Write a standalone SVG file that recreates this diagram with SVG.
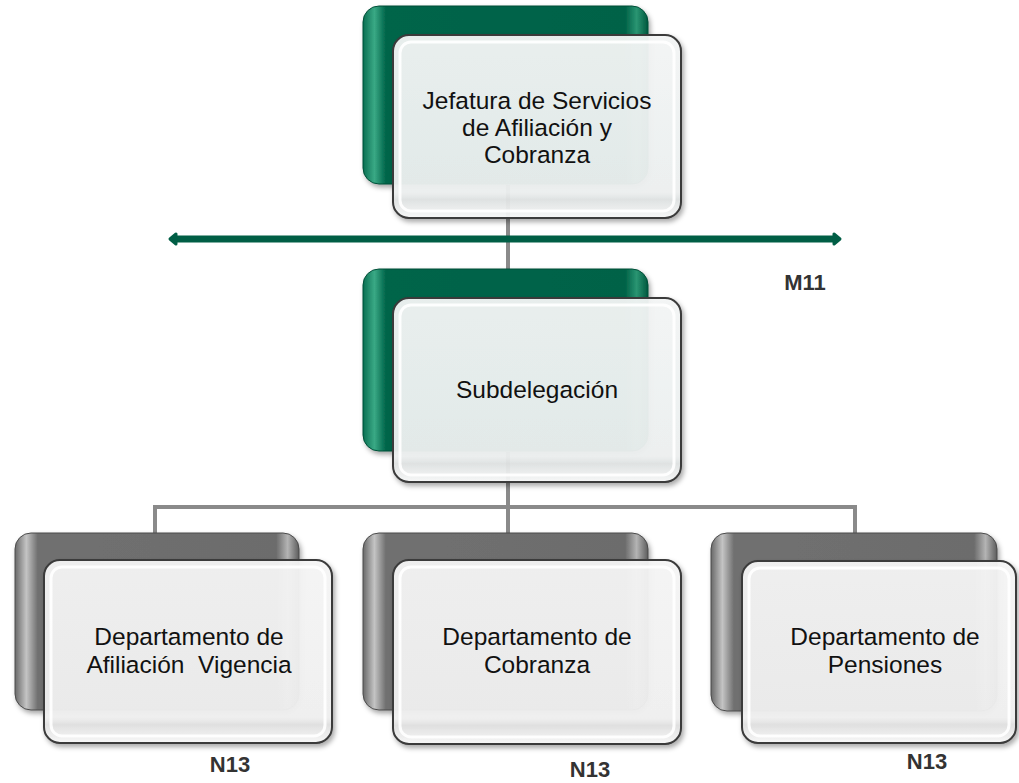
<svg xmlns="http://www.w3.org/2000/svg" width="1019" height="783" viewBox="0 0 1019 783">
<defs>
  <filter id="sh" x="-10%" y="-10%" width="125%" height="130%">
    <feDropShadow dx="2" dy="3" stdDeviation="2.5" flood-color="#000" flood-opacity="0.35"/>
  </filter>
  <linearGradient id="gGreen" x1="0" y1="0" x2="1" y2="0">
    <stop offset="0" stop-color="#086f52"/>
    <stop offset="0.04" stop-color="#3aa985"/>
    <stop offset="0.08" stop-color="#00654a"/>
    <stop offset="0.92" stop-color="#006247"/>
    <stop offset="0.96" stop-color="#2a9572"/>
    <stop offset="1" stop-color="#00573e"/>
  </linearGradient>
  <linearGradient id="gGray" x1="0" y1="0" x2="1" y2="0">
    <stop offset="0" stop-color="#686868"/>
    <stop offset="0.04" stop-color="#c4c4c4"/>
    <stop offset="0.08" stop-color="#707070"/>
    <stop offset="0.92" stop-color="#6c6c6c"/>
    <stop offset="0.96" stop-color="#b4b4b4"/>
    <stop offset="1" stop-color="#5c5c5c"/>
  </linearGradient>
  <linearGradient id="gFrontG" x1="0" y1="0" x2="0" y2="1">
    <stop offset="0" stop-color="#f4f6f6"/>
    <stop offset="0.86" stop-color="#eef1f1"/>
    <stop offset="0.9" stop-color="#e0e3e3"/>
    <stop offset="1" stop-color="#f8f9f9"/>
  </linearGradient>
  <linearGradient id="gFront" x1="0" y1="0" x2="0" y2="1">
    <stop offset="0" stop-color="#f6f6f6"/>
    <stop offset="0.86" stop-color="#f1f1f1"/>
    <stop offset="0.9" stop-color="#e1e1e1"/>
    <stop offset="1" stop-color="#f9f9f9"/>
  </linearGradient>
  <style>
    .backG { fill: url(#gGreen); stroke: #004e37; stroke-width: 1; }
    .backK { fill: url(#gGray); stroke: #4a4a4a; stroke-width: 1; }
    .frontG { fill: url(#gFrontG); stroke: #3a3a3a; stroke-width: 2; fill-opacity: 0.94; }
    .front { fill: url(#gFront); stroke: #3a3a3a; stroke-width: 2; fill-opacity: 0.94; }
    .bevel { fill: none; stroke: #ffffff; stroke-width: 3; stroke-opacity: 0.9; }
    .conn { fill: none; stroke: #8a8a8a; stroke-width: 4; }
    .txt { font-family: "Liberation Sans", Arial, sans-serif; font-size: 24.5px; fill: #111111; text-anchor: middle; }
    .lvl { font-family: "Liberation Sans", Arial, sans-serif; font-size: 22px; font-weight: bold; fill: #333333; text-anchor: middle; }
  </style>
</defs>

<g id="connectors">
  <path class="conn" d="M508 185 V298"/>
  <path class="conn" d="M508 452 V507 M155 507 H855 M155 505 V533 M508 507 V533 M855 505 V533"/>
  <line x1="175" y1="239" x2="835" y2="239" stroke="#005e45" stroke-width="7"/>
  <path d="M170 239 L176 234 L176 244 Z" fill="#005e45" stroke="#005e45" stroke-width="3" stroke-linejoin="round"/>
  <path d="M840 239 L834 234 L834 244 Z" fill="#005e45" stroke="#005e45" stroke-width="3" stroke-linejoin="round"/>
</g>

<g id="node-jefatura">
  <rect class="backG" x="363" y="6" width="285" height="178" rx="16" filter="url(#sh)"/>
  <rect class="frontG" x="393" y="35" width="288" height="183" rx="16" filter="url(#sh)"/>
  <rect class="bevel" x="400" y="42" width="274" height="169" rx="11"/>
  <text class="txt" x="537" y="109">Jefatura de Servicios</text>
  <text class="txt" x="537" y="136">de Afiliación y</text>
  <text class="txt" x="537" y="163">Cobranza</text>
</g>

<g id="label-m11">
  <text class="lvl" x="805" y="290">M11</text>
</g>

<g id="node-subdelegacion">
  <rect class="backG" x="363" y="269" width="285" height="182" rx="16" filter="url(#sh)"/>
  <rect class="frontG" x="393" y="298" width="288" height="184" rx="16" filter="url(#sh)"/>
  <rect class="bevel" x="400" y="305" width="274" height="170" rx="11"/>
  <text class="txt" x="537" y="398">Subdelegación</text>
</g>

<g id="node-afiliacion">
  <rect class="backK" x="15" y="533" width="284" height="177" rx="16" filter="url(#sh)"/>
  <rect class="front" x="44" y="560" width="288" height="183" rx="16" filter="url(#sh)"/>
  <rect class="bevel" x="51" y="567" width="274" height="169" rx="11"/>
  <text class="txt" x="189" y="645">Departamento de</text>
  <text class="txt" x="189" y="673" xml:space="preserve">Afiliación  Vigencia</text>
  <text class="lvl" x="230" y="772">N13</text>
</g>

<g id="node-cobranza">
  <rect class="backK" x="363" y="533" width="285" height="177" rx="16" filter="url(#sh)"/>
  <rect class="front" x="393" y="560" width="288" height="184" rx="16" filter="url(#sh)"/>
  <rect class="bevel" x="400" y="567" width="274" height="170" rx="11"/>
  <text class="txt" x="537" y="645">Departamento de</text>
  <text class="txt" x="537" y="673">Cobranza</text>
  <text class="lvl" x="590" y="777">N13</text>
</g>

<g id="node-pensiones">
  <rect class="backK" x="711" y="533" width="286" height="178" rx="16" filter="url(#sh)"/>
  <rect class="front" x="742" y="561" width="274" height="182" rx="16" filter="url(#sh)"/>
  <rect class="bevel" x="749" y="568" width="260" height="168" rx="11"/>
  <text class="txt" x="885" y="645">Departamento de</text>
  <text class="txt" x="885" y="673">Pensiones</text>
  <text class="lvl" x="927" y="769">N13</text>
</g>
</svg>
